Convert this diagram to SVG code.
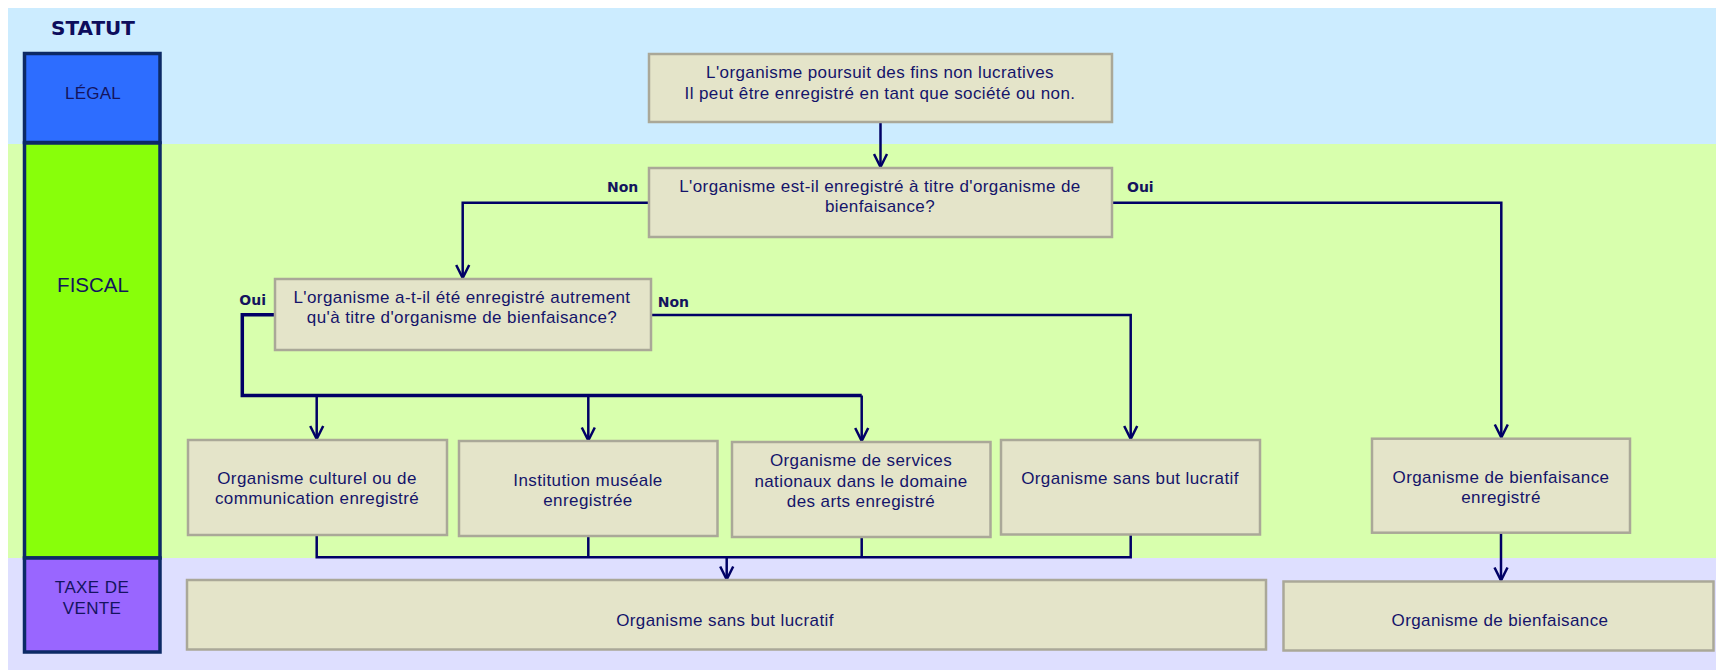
<svg xmlns="http://www.w3.org/2000/svg" width="1716" height="670" viewBox="0 0 1716 670">
<style>
.band{stroke:none}
.lane{stroke:#0c2a66;stroke-width:3.5}
.lanet{font-family:"Liberation Sans",Arial,sans-serif;fill:#14145e;text-anchor:middle}
.box{fill:#e4e4c9;stroke:#aaa898;stroke-width:2.5}
.t{font-family:"Liberation Sans",Arial,sans-serif;font-size:17px;letter-spacing:0.4px;fill:#14146a;text-anchor:middle}
.lbl{font-family:"DejaVu Sans",Verdana,sans-serif;font-size:14px;font-weight:bold;fill:#14145e}
.c{fill:none;stroke:#000066;stroke-width:2.5}
.cb{fill:none;stroke:#000066;stroke-width:3.5}
</style>
<defs>
<marker id="arr" viewBox="0 0 16 16" refX="14.5" refY="8" markerWidth="16" markerHeight="16" markerUnits="userSpaceOnUse" orient="auto">
<path d="M1.5,1.5 L14.5,8 L1.5,14.5" fill="none" stroke="#000066" stroke-width="2.5"/>
</marker>
</defs>
<rect width="1716" height="670" fill="#ffffff"/>
<g id="bands">
<rect class="band" x="8" y="8" width="1708" height="136" fill="#ccecff"/>
<rect class="band" x="8" y="144" width="1708" height="414" fill="#d8ffad"/>
<rect class="band" x="8" y="558" width="1708" height="112" fill="#dedfff"/>
</g>
<g id="lanes">
<text class="lanet" x="93" y="35" style="font-family:'DejaVu Sans',Verdana,sans-serif;font-weight:bold;font-size:20px;fill:#0d0d5c">STATUT</text>
<g id="lane-legal">
<rect class="lane" x="24.5" y="53.5" width="135.5" height="89" fill="#2d6dff"/>
<text class="lanet" x="93" y="99" font-size="17" letter-spacing="0.2">LÉGAL</text>
</g>
<g id="lane-fiscal">
<rect class="lane" x="24.5" y="143" width="135.5" height="415" fill="#88ff0a"/>
<text class="lanet" x="93" y="292" font-size="20.5">FISCAL</text>
</g>
<g id="lane-taxe">
<rect class="lane" x="24.5" y="558" width="135.5" height="94" fill="#9966ff"/>
<text class="lanet" x="92" y="592.5" font-size="17" letter-spacing="0.4">TAXE DE</text>
<text class="lanet" x="92" y="614" font-size="17" letter-spacing="0.4">VENTE</text>
</g>
</g>
<g id="connectors">
<path class="c" d="M880.5,122 V167" marker-end="url(#arr)"/>
<path class="c" d="M649,202.7 H462.7 V278" marker-end="url(#arr)"/>
<path class="c" d="M1112,202.7 H1501.3 V437.5" marker-end="url(#arr)"/>
<path class="c" d="M651,315 H1130.7 V439" marker-end="url(#arr)"/>
<path class="cb" d="M275,314.7 H242.3 V395.5 H861.7"/>
<path class="c" d="M861.7,395.5 V441" marker-end="url(#arr)"/>
<path class="c" d="M316.7,395.5 V439" marker-end="url(#arr)"/>
<path class="c" d="M588.3,395.5 V440.5" marker-end="url(#arr)"/>
<path class="c" d="M316.7,535 V557.3 H1130.7 V534.5"/>
<path class="c" d="M588.3,536 V557.3"/>
<path class="c" d="M861.7,537 V557.3"/>
<path class="c" d="M726.7,557.3 V579.5" marker-end="url(#arr)"/>
<path class="c" d="M1501,533 V580.5" marker-end="url(#arr)"/>
<text class="lbl" x="638.3" y="192.3" text-anchor="end">Non</text>
<text class="lbl" x="1127" y="192">Oui</text>
<text class="lbl" x="239.3" y="305">Oui</text>
<text class="lbl" x="657.7" y="306.7">Non</text>
</g>
<g id="n-legal">
<rect class="box" x="649" y="54" width="463" height="68"/>
<text class="t" x="880" y="78.3">L'organisme poursuit des fins non lucratives</text>
<text class="t" x="880" y="99">Il peut être enregistré en tant que société ou non.</text>
</g>
<g id="n-bienf-q">
<rect class="box" x="649" y="168" width="463" height="69"/>
<text class="t" x="880" y="191.7">L'organisme est-il enregistré à titre d'organisme de</text>
<text class="t" x="880" y="211.7">bienfaisance?</text>
</g>
<g id="n-autre-q">
<rect class="box" x="275" y="279" width="376" height="71"/>
<text class="t" x="462" y="303.3">L'organisme a-t-il été enregistré autrement</text>
<text class="t" x="462" y="322.7">qu'à titre d'organisme de bienfaisance?</text>
</g>
<g id="n-culturel">
<rect class="box" x="188" y="440" width="259" height="95"/>
<text class="t" x="317" y="484.3">Organisme culturel ou de</text>
<text class="t" x="317" y="504.3">communication enregistré</text>
</g>
<g id="n-museale">
<rect class="box" x="459" y="441" width="258.5" height="95"/>
<text class="t" x="588" y="485.7">Institution muséale</text>
<text class="t" x="588" y="506">enregistrée</text>
</g>
<g id="n-services">
<rect class="box" x="732" y="442" width="258.5" height="95"/>
<text class="t" x="861" y="466">Organisme de services</text>
<text class="t" x="861" y="486.7">nationaux dans le domaine</text>
<text class="t" x="861" y="506.7">des arts enregistré</text>
</g>
<g id="n-osbl-fiscal">
<rect class="box" x="1001" y="440" width="259" height="94.5"/>
<text class="t" x="1130" y="483.7">Organisme sans but lucratif</text>
</g>
<g id="n-bienf-enr">
<rect class="box" x="1372" y="438.7" width="258" height="94"/>
<text class="t" x="1501" y="482.7">Organisme de bienfaisance</text>
<text class="t" x="1501" y="502.7">enregistré</text>
</g>
<g id="n-osbl-taxe">
<rect class="box" x="187" y="580" width="1079" height="69.5"/>
<text class="t" x="725" y="625.5">Organisme sans but lucratif</text>
</g>
<g id="n-bienf-taxe">
<rect class="box" x="1283.5" y="581.5" width="430" height="69"/>
<text class="t" x="1500" y="626">Organisme de bienfaisance</text>
</g>
</svg>
